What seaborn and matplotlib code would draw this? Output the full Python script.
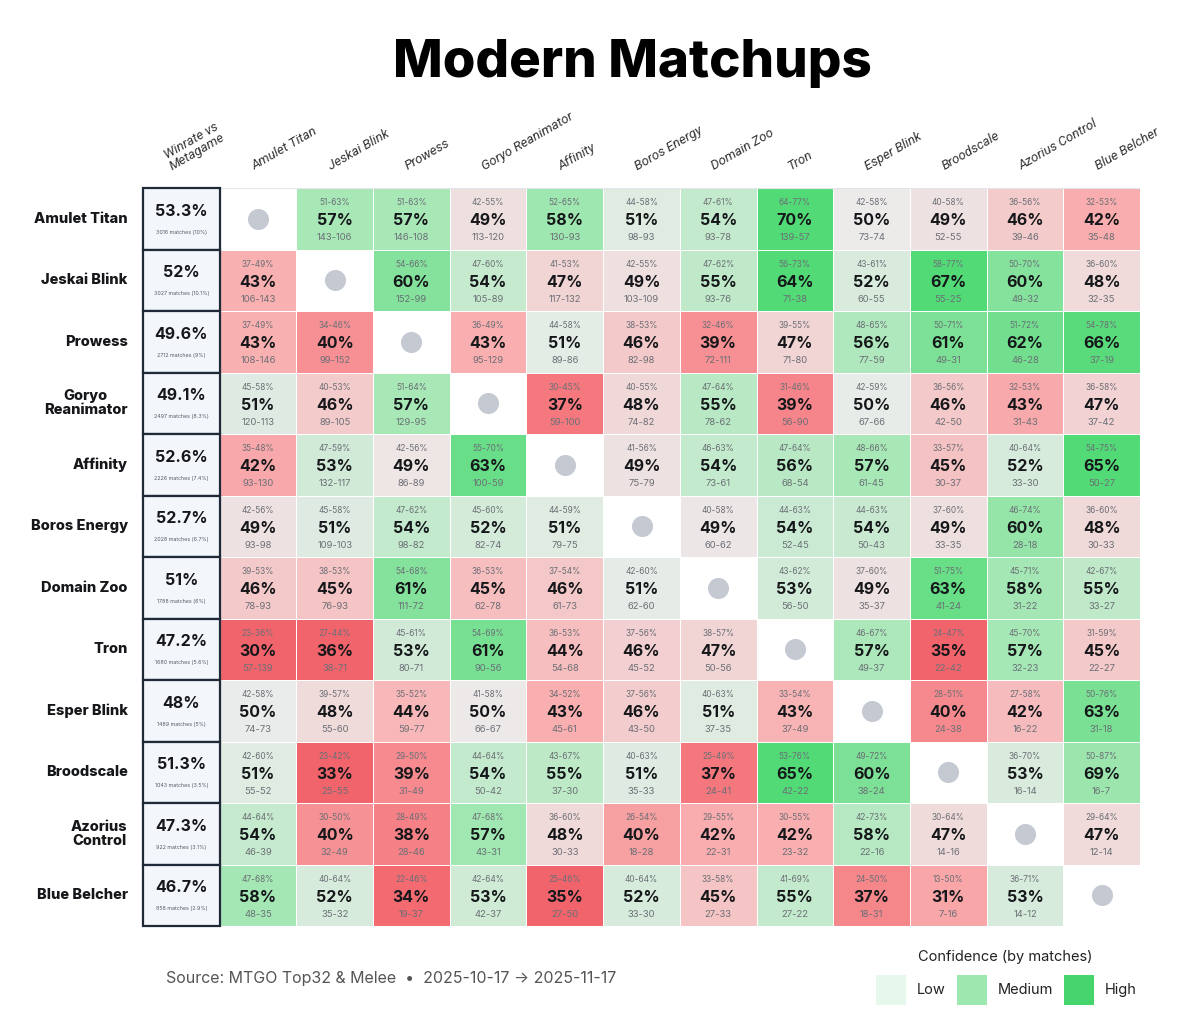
import numpy as np
import pandas as pd
import matplotlib
matplotlib.use("Agg")
import matplotlib.pyplot as plt
from matplotlib.colors import LinearSegmentedColormap
from matplotlib.patches import Rectangle
import seaborn as sns

decks = ["Amulet Titan", "Jeskai Blink", "Prowess", "Goryo Reanimator", "Affinity",
         "Boros Energy", "Domain Zoo", "Tron", "Esper Blink", "Broodscale",
         "Azorius Control", "Blue Belcher"]
row_labels = ["Amulet Titan", "Jeskai Blink", "Prowess", "Goryo\nReanimator", "Affinity",
              "Boros Energy", "Domain Zoo", "Tron", "Esper Blink", "Broodscale",
              "Azorius\nControl", "Blue Belcher"]

# overall winrate vs metagame
meta_winrate = ["53.3%", "52%", "49.6%", "49.1%", "52.6%", "52.7%",
                "51%", "47.2%", "48%", "51.3%", "47.3%", "46.7%"]
meta_matches = [3016, 3027, 2712, 2497, 2226, 2028, 1788, 1680, 1489, 1043, 922, 858]
meta_share = ["10%", "10.1%", "9%", "8.3%", "7.4%", "6.7%",
              "6%", "5.6%", "5%", "3.5%", "3.1%", "2.9%"]

nan = np.nan
# displayed winrate (row deck vs column deck)
winrate = [
    [nan, 57, 57, 49, 58, 51, 54, 70, 50, 49, 46, 42],
    [43, nan, 60, 54, 47, 49, 55, 64, 52, 67, 60, 48],
    [43, 40, nan, 43, 51, 46, 39, 47, 56, 61, 62, 66],
    [51, 46, 57, nan, 37, 48, 55, 39, 50, 46, 43, 47],
    [42, 53, 49, 63, nan, 49, 54, 56, 57, 45, 52, 65],
    [49, 51, 54, 52, 51, nan, 49, 54, 54, 49, 60, 48],
    [46, 45, 61, 45, 46, 51, nan, 53, 49, 63, 58, 55],
    [30, 36, 53, 61, 44, 46, 47, nan, 57, 35, 57, 45],
    [50, 48, 44, 50, 43, 46, 51, 43, nan, 40, 42, 63],
    [51, 33, 39, 54, 55, 51, 37, 65, 60, nan, 53, 69],
    [54, 40, 38, 57, 48, 40, 42, 42, 58, 47, nan, 47],
    [58, 52, 34, 53, 35, 52, 45, 55, 37, 31, 53, nan],
]

records = [
    [None, "143-106", "146-108", "113-120", "130-93", "98-93", "93-78", "139-57", "73-74", "52-55", "39-46", "35-48"],
    ["106-143", None, "152-99", "105-89", "117-132", "103-109", "93-76", "71-38", "60-55", "55-25", "49-32", "32-35"],
    ["108-146", "99-152", None, "95-129", "89-86", "82-98", "72-111", "71-80", "77-59", "49-31", "46-28", "37-19"],
    ["120-113", "89-105", "129-95", None, "59-100", "74-82", "78-62", "56-90", "67-66", "42-50", "31-43", "37-42"],
    ["93-130", "132-117", "86-89", "100-59", None, "75-79", "73-61", "68-54", "61-45", "30-37", "33-30", "50-27"],
    ["93-98", "109-103", "98-82", "82-74", "79-75", None, "60-62", "52-45", "50-43", "33-35", "28-18", "30-33"],
    ["78-93", "76-93", "111-72", "62-78", "61-73", "62-60", None, "56-50", "35-37", "41-24", "31-22", "33-27"],
    ["57-139", "38-71", "80-71", "90-56", "54-68", "45-52", "50-56", None, "49-37", "22-42", "32-23", "22-27"],
    ["74-73", "55-60", "59-77", "66-67", "45-61", "43-50", "37-35", "37-49", None, "24-38", "16-22", "31-18"],
    ["55-52", "25-55", "31-49", "50-42", "37-30", "35-33", "24-41", "42-22", "38-24", None, "16-14", "16-7"],
    ["46-39", "32-49", "28-46", "43-31", "30-33", "18-28", "22-31", "23-32", "22-16", "14-16", None, "12-14"],
    ["48-35", "35-32", "19-37", "42-37", "27-50", "33-30", "27-33", "27-22", "18-31", "7-16", "14-12", None],
]

conf_int = [
    [None, "51-63", "51-63", "42-55", "52-65", "44-58", "47-61", "64-77", "42-58", "40-58", "36-56", "32-53"],
    ["37-49", None, "54-66", "47-60", "41-53", "42-55", "47-62", "56-73", "43-61", "58-77", "50-70", "36-60"],
    ["37-49", "34-46", None, "36-49", "44-58", "38-53", "32-46", "39-55", "48-65", "50-71", "51-72", "54-78"],
    ["45-58", "40-53", "51-64", None, "30-45", "40-55", "47-64", "31-46", "42-59", "36-56", "32-53", "36-58"],
    ["35-48", "47-59", "42-56", "55-70", None, "41-56", "46-63", "47-64", "48-66", "33-57", "40-64", "54-75"],
    ["42-56", "45-58", "47-62", "45-60", "44-59", None, "40-58", "44-63", "44-63", "37-60", "46-74", "36-60"],
    ["39-53", "38-53", "54-68", "36-53", "37-54", "42-60", None, "43-62", "37-60", "51-75", "45-71", "42-67"],
    ["23-36", "27-44", "45-61", "54-69", "36-53", "37-56", "38-57", None, "46-67", "24-47", "45-70", "31-59"],
    ["42-58", "39-57", "35-52", "41-58", "34-52", "37-56", "40-63", "33-54", None, "28-51", "27-58", "50-76"],
    ["42-60", "23-42", "29-50", "44-64", "43-67", "40-63", "25-49", "53-76", "49-72", None, "36-70", "50-87"],
    ["44-64", "30-50", "28-49", "47-68", "36-60", "26-54", "29-55", "30-55", "42-73", "30-64", None, "29-64"],
    ["47-68", "40-64", "22-46", "42-64", "25-46", "40-64", "33-58", "41-69", "24-50", "13-50", "36-71", None],
]

legend_labels = ["Low", "Medium", "High"]
legend_colors = ["#e6f8eb", "#9de8ae", "#45d56c"]


def cell_strength(rec):
    # signed colour strength: direction from winrate, intensity scaled by sample size
    if rec is None:
        return nan
    w, l = (int(x) for x in rec.split("-"))
    n = w + l
    d = 100.0 * w / n - 50
    conf = 0.3 + 0.7 * min(1.0, n / 60)
    return np.sign(d) * min(1.0, abs(d) / 15) * conf


strength = pd.DataFrame([[cell_strength(r) for r in row] for row in records],
                        index=decks, columns=decks)

cmap = LinearSegmentedColormap.from_list(
    "matchup", [(0.0, "#f2646c"), (0.25, "#f9b0b1"), (0.5, "#ececec"),
                (0.75, "#a8e8b7"), (1.0, "#52da77")])

sns.set_theme(style="white")
plt.rcParams["font.family"] = ["Inter", "DejaVu Sans"]

fig = plt.figure(figsize=(12, 10.29), dpi=100)
ax = fig.add_axes([143 / 1200, 1 - 926 / 1029, 997 / 1200, 738 / 1029])

sns.heatmap(strength, mask=strength.isna(), cmap=cmap, vmin=-1, vmax=1, cbar=False,
            linewidths=0.6, linecolor="white", xticklabels=False, yticklabels=False, ax=ax)
ax.set_xlim(-1, len(decks))
ax.set_ylim(len(decks), 0)
for s in ax.spines.values():
    s.set_visible(False)
ax.add_patch(Rectangle((0, 0), len(decks), len(decks), fill=False,
                       edgecolor="#e3e5e8", lw=0.8))

# cell annotations
for i in range(len(decks)):
    for j in range(len(decks)):
        if records[i][j] is None:
            ax.scatter(j + 0.5, i + 0.5, s=200, color="#c5c9d2", zorder=3)
            continue
        ax.text(j + 0.5, i + 0.24, conf_int[i][j] + "%", ha="center", va="center",
                fontsize=6, color="#6b6f76")
        ax.text(j + 0.5, i + 0.53, f"{winrate[i][j]:.0f}%", ha="center", va="center",
                fontsize=11.5, fontweight="bold", color="#15171a")
        ax.text(j + 0.5, i + 0.81, records[i][j], ha="center", va="center",
                fontsize=6.8, color="#6b6f76")

# winrate vs metagame column
for i in range(len(decks)):
    ax.add_patch(Rectangle((-1, i), 1, 1, facecolor="#f3f6fa", edgecolor="#1f2937",
                           lw=1.6, clip_on=False, zorder=4))
    ax.text(-0.5, i + 0.38, meta_winrate[i], ha="center", va="center", fontsize=11.5,
            fontweight="bold", color="#15171a", zorder=5)
    ax.text(-0.5, i + 0.72, f"{meta_matches[i]} matches ({meta_share[i]})", ha="center",
            va="center", fontsize=3.8, color="#555a63", zorder=5)
    ax.text(-1.2, i + 0.5, row_labels[i], ha="right", va="center", multialignment="center",
            fontsize=10.5, fontweight="heavy", color="#15171a", linespacing=1.0)

# column headers
hdr_font = ["Roboto", "DejaVu Sans"]
for j, name in enumerate(decks):
    ax.text(j + 0.47, -0.25, name, rotation=30, rotation_mode="anchor", ha="left",
            va="bottom", fontsize=9.5, style="italic", family=hdr_font, color="#333333")
ax.text(-0.6, -0.25, "Winrate vs\nMetagame", rotation=30, rotation_mode="anchor",
        ha="left", va="bottom", multialignment="center", fontsize=9.5, style="italic",
        family=hdr_font, color="#333333", linespacing=0.95)

fig.text(632 / 1200, 1 - 64 / 1029, "Modern Matchups", ha="center", va="center",
         fontsize=38, fontweight="heavy", color="#000000")

fig.text(166 / 1200, 1 - 978 / 1029,
         "Source: MTGO Top32 & Melee  \u2022  2025-10-17 \u2192 2025-11-17",
         ha="left", va="center", fontsize=11.5, color="#555555")

# confidence legend
fig.text(1005 / 1200, 1 - 957 / 1029, "Confidence (by matches)", ha="center",
         va="center", fontsize=10.5, color="#222222")
for x0, lab, col in zip([876, 957, 1064], legend_labels, legend_colors):
    fig.add_artist(Rectangle((x0 / 1200, 1 - 1005 / 1029), 30 / 1200, 30 / 1029,
                             transform=fig.transFigure, facecolor=col, edgecolor="none"))
    fig.text((x0 + 41) / 1200, 1 - 990 / 1029, lab, ha="left", va="center",
             fontsize=10.5, color="#222222")

fig.savefig("out.png", dpi=100, facecolor="white")
